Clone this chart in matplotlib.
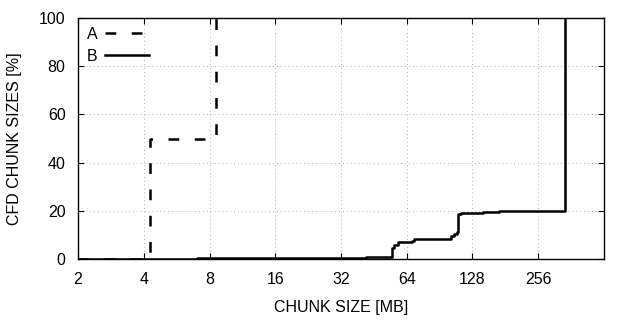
import matplotlib
matplotlib.use("Agg")
import matplotlib.pyplot as plt

plt.rcParams["font.family"] = ["Liberation Sans", "DejaVu Sans"]

# CDF of chunk sizes
a_size = [2, 4.25, 8.6]
a_pct = [0, 50, 100]

b_size = [2, 7.0, 41.5, 54.7, 55.8, 58.2, 67.5, 68.9, 101.6, 104.8, 108.2,
          109.7, 113.7, 143.7, 161, 169.5, 339]
b_pct = [0, 0.4, 0.8, 4.5, 6.0, 7.2, 7.6, 8.2, 9.5, 10.5, 11.3,
         18.6, 19.0, 19.3, 19.6, 20.0, 100]

x_ticks = [2, 4, 8, 16, 32, 64, 128, 256]
y_ticks = [0, 20, 40, 60, 80, 100]

fig = plt.figure(figsize=(6.4, 3.2), dpi=100)
ax = fig.add_axes([0.1219, 0.1906, 0.8218, 0.7531])

lw = 1.8
ax.plot(a_size, a_pct, drawstyle="steps-post", color="black", linewidth=lw,
        dashes=(4.3, 6.2), label="A")
ax.plot(b_size, b_pct, drawstyle="steps-post", color="black", linewidth=lw,
        label="B")

ax.set_xscale("log", base=2)
ax.set_xlim(2, 512)
ax.set_ylim(0, 100)
ax.set_xticks(x_ticks)
ax.set_xticklabels([str(t) for t in x_ticks])
ax.xaxis.set_minor_locator(matplotlib.ticker.NullLocator())
ax.set_yticks(y_ticks)

ax.tick_params(direction="in", length=4.5, width=0.8, top=True, right=True,
               labelsize=11.5, pad=9)
ax.grid(True, color="#b0b0b0", linestyle=(0, (1, 3)), linewidth=0.7)
for s in ax.spines.values():
    s.set_linewidth(1.0)

ax.set_xlabel("CHUNK SIZE [MB]", fontsize=11.5, labelpad=10)
ax.set_ylabel("CFD CHUNK SIZES [%]", fontsize=11.5, labelpad=12)

ax.legend(loc="upper left", frameon=False, markerfirst=False, fontsize=11.5,
          handlelength=2.75, handletextpad=0.45, borderaxespad=0.25,
          borderpad=0.3, labelspacing=0.45)

fig.savefig("out.png", dpi=100)
